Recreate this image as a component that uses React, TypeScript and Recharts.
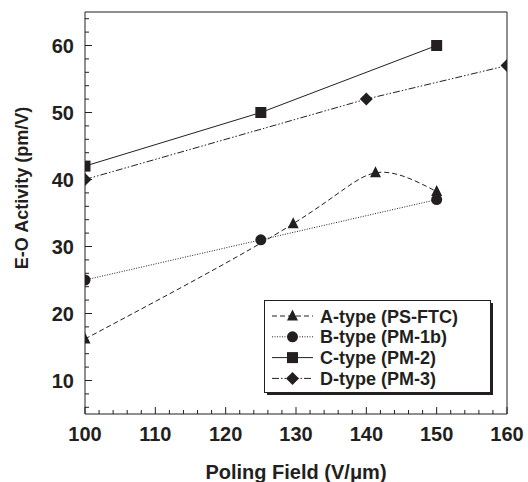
import React from "react";
import {
  LineChart,
  Line,
  XAxis,
  YAxis,
  ReferenceLine,
} from "recharts";

// poling field (V/um) and E-O activity (pm/V) per polymer type
const fieldA = [100, 129.6, 141.3, 150];
const activityA = [16.2, 33.4, 41, 38.2];
const fieldB = [100, 125, 150];
const activityB = [25, 31, 37];
const fieldC = [100, 125, 150];
const activityC = [42, 50, 60];
const fieldD = [100, 140, 160];
const activityD = [40, 52, 57];

const xTicks = [100, 102, 104, 106, 108, 110, 112, 114, 116, 118, 120, 122, 124, 126, 128, 130, 132, 134, 136, 138, 140, 142, 144, 146, 148, 150, 152, 154, 156, 158, 160];
const yTicks = [6, 8, 10, 12, 14, 16, 18, 20, 22, 24, 26, 28, 30, 32, 34, 36, 38, 40, 42, 44, 46, 48, 50, 52, 54, 56, 58, 60, 62, 64];

const INK = "#231f20";
const FONT = "'Liberation Sans', Arial, Helvetica, sans-serif";

const toPoints = (xs: number[], ys: number[]) =>
  xs.map((x, i) => ({ x, y: ys[i] }));

const series = [
  { name: "A-type (PS-FTC)", data: toPoints(fieldA, activityA), dash: "5 3", shape: "triangle", curve: "natural" },
  { name: "B-type (PM-1b)", data: toPoints(fieldB, activityB), dash: "1 1.5", shape: "circle", curve: "linear" },
  { name: "C-type (PM-2)", data: toPoints(fieldC, activityC), dash: undefined, shape: "square", curve: "linear" },
  { name: "D-type (PM-3)", data: toPoints(fieldD, activityD), dash: "7 2 1.5 2 1.5 2", shape: "diamond", curve: "linear" },
];

function Marker({ shape, cx, cy }: { shape: string; cx: number; cy: number }) {
  if (shape === "triangle") {
    return <polygon points={`${cx},${cy - 6.5} ${cx - 5.5},${cy + 4.5} ${cx + 5.5},${cy + 4.5}`} fill={INK} />;
  }
  if (shape === "circle") {
    return <circle cx={cx} cy={cy} r={5.5} fill={INK} />;
  }
  if (shape === "square") {
    return <rect x={cx - 5.5} y={cy - 5.5} width={11} height={11} fill={INK} />;
  }
  return <polygon points={`${cx},${cy - 6.5} ${cx + 6.5},${cy} ${cx},${cy + 6.5} ${cx - 6.5},${cy}`} fill={INK} />;
}

const YTick = (props: any) => {
  const { x, y, payload } = props;
  const major = payload.value % 10 === 0;
  return (
    <g>
      <line x1={x} x2={x + (major ? 7 : 4)} y1={y} y2={y} stroke={INK} />
      {major && (
        <text x={x - 11} y={y} dy={7} textAnchor="end" fontFamily={FONT} fontWeight="bold" fontSize={20} fill={INK}>
          {payload.value}
        </text>
      )}
    </g>
  );
};

const XTick = (props: any) => {
  const { x, y, payload } = props;
  const major = payload.value % 10 === 0;
  return (
    <g>
      <line x1={x} x2={x} y1={y} y2={y - (major ? 7 : 4)} stroke={INK} />
      {major && (
        <text x={x} y={y + 27} textAnchor="middle" fontFamily={FONT} fontWeight="bold" fontSize={20} fill={INK}>
          {payload.value}
        </text>
      )}
    </g>
  );
};

const LegendBox = () => (
  <svg width={232} height={98} style={{ position: "absolute", left: 264, top: 300 }}>
    <rect x={3} y={3} width={226} height={92} fill={INK} />
    <rect x={0.5} y={0.5} width={226} height={92} fill="#fff" stroke={INK} />
    {series.map((s, i) => {
      const cy = 16 + i * 20.8;
      return (
        <g key={s.name}>
          <line x1={8} x2={49} y1={cy} y2={cy} stroke={INK} strokeDasharray={s.dash} />
          <Marker shape={s.shape} cx={28.5} cy={cy} />
          <text x={56} y={cy + 6.5} fontFamily={FONT} fontWeight="bold" fontSize={18} fill={INK}>
            {s.name}
          </text>
        </g>
      );
    })}
  </svg>
);

export default function App() {
  return (
    <div style={{ position: "relative", width: 528, height: 482, background: "#fff" }}>
      <style>{`body{margin:0}`}</style>
      <LineChart width={528} height={482} margin={{ top: 12, right: 21, bottom: 0, left: 0 }}>
        <XAxis
          type="number"
          dataKey="x"
          domain={[100, 160]}
          ticks={xTicks}
          interval={0}
          tickSize={0}
          tickMargin={0}
          tick={<XTick />}
          axisLine={{ stroke: INK }}
          height={68}
          allowDataOverflow
          label={({ viewBox }: any) => (
            <text
              x={viewBox.x + viewBox.width / 2}
              y={viewBox.y + 65}
              textAnchor="middle"
              fontFamily={FONT}
              fontWeight="bold"
              fontSize={20}
              fill={INK}
            >
              Poling Field (V/μm)
            </text>
          )}
        />
        <YAxis
          type="number"
          dataKey="y"
          domain={[5, 65]}
          ticks={yTicks}
          interval={0}
          tickSize={0}
          tickMargin={0}
          tick={<YTick />}
          axisLine={{ stroke: INK }}
          width={85}
          allowDataOverflow
          label={({ viewBox }: any) => {
            const cx = 21;
            const cy = viewBox.y + viewBox.height / 2 - 25;
            return (
              <text
                x={cx}
                y={cy}
                transform={`rotate(-90, ${cx}, ${cy})`}
                textAnchor="middle"
                dy={7}
                fontFamily={FONT}
                fontWeight="bold"
                fontSize={18}
                fill={INK}
              >
                E-O Activity (pm/V)
              </text>
            );
          }}
        />
        <ReferenceLine y={65} stroke={INK} />
        <ReferenceLine x={160} stroke={INK} />
        {series.map((s) => (
          <Line
            key={s.name}
            data={s.data}
            dataKey="y"
            name={s.name}
            type={s.curve as any}
            stroke={INK}
            strokeWidth={1}
            strokeDasharray={s.dash}
            isAnimationActive={false}
            activeDot={false}
            dot={(p: any) => <Marker key={`${s.name}-${p.index}`} shape={s.shape} cx={p.cx} cy={p.cy} />}
          />
        ))}
      </LineChart>
      <LegendBox />
    </div>
  );
}
